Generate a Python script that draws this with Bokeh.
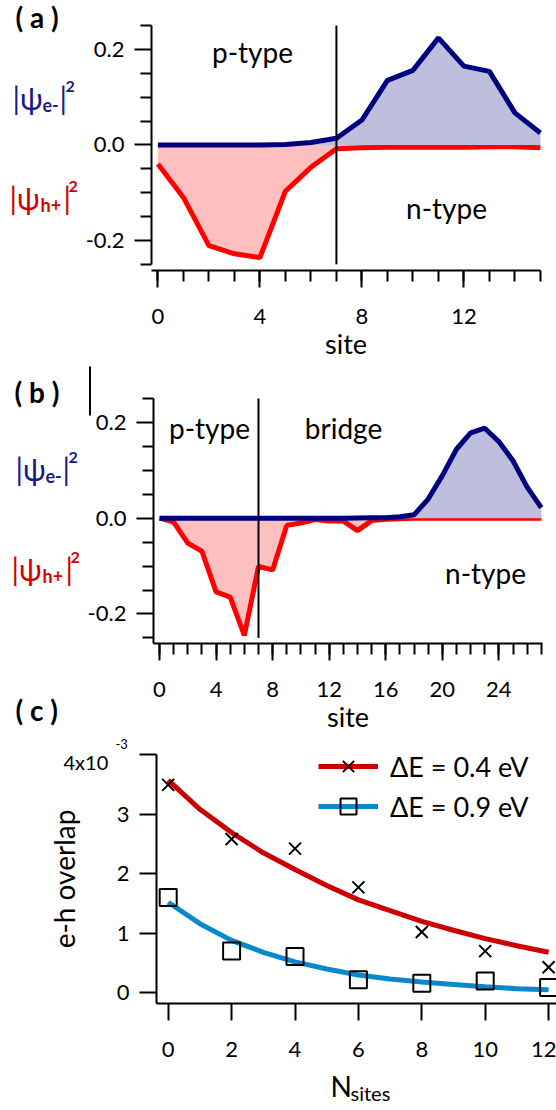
from bokeh.plotting import figure
from bokeh.models import Range1d, FixedTicker, NumeralTickFormatter, Label, Legend, LegendItem, BoxAnnotation
from bokeh.layouts import column
from bokeh.embed import file_html
from bokeh.resources import INLINE

# ---------------- data ----------------
sites_a = list(range(16))
psi_e_a = [0, 0, 0, 0, 0, 0.001, 0.005, 0.014, 0.052, 0.135, 0.156, 0.224, 0.165, 0.154, 0.067, 0.025]
psi_h_a = [-0.040, -0.110, -0.211, -0.228, -0.236, -0.097, -0.047, -0.008, -0.006, -0.005, -0.005,
           -0.005, -0.005, -0.004, -0.004, -0.006]
junction_a = [7]

sites_b = list(range(28))
psi_e_b = [0, 0, 0, 0, 0, 0, 0, 0, 0, 0, 0, 0, 0, 0, 0.0005, 0.001, 0.001, 0.003, 0.007,
           0.040, 0.089, 0.144, 0.178, 0.188, 0.160, 0.120, 0.065, 0.022]
psi_h_b = [0, -0.008, -0.052, -0.069, -0.154, -0.165, -0.245, -0.101, -0.108, -0.015, -0.010,
           -0.003, -0.006, -0.006, -0.026, -0.005, -0.002, -0.001, 0, 0, 0, 0, 0, 0, 0, 0, 0, 0]
junction_b = [7]

n_sites = [0, 2, 4, 6, 8, 10, 12]
overlap_04 = [3.49, 2.58, 2.42, 1.77, 1.02, 0.70, 0.43]   # x 1e-3
overlap_09 = [1.60, 0.70, 0.61, 0.22, 0.16, 0.20, 0.09]   # x 1e-3
fit_n = list(range(13))
fit_04 = [3.57, 3.08, 2.69, 2.35, 2.07, 1.80, 1.56, 1.38, 1.20, 1.05, 0.91, 0.79, 0.68]
fit_09 = [1.52, 1.16, 0.88, 0.68, 0.52, 0.40, 0.30, 0.23, 0.18, 0.14, 0.10, 0.07, 0.05]

legend_labels = ["\u0394E = 0.4 eV", "\u0394E = 0.9 eV"]

FONT = "Lato"
NAVY = "#00007f"
NAVY_FILL = "#bfbfdd"
RED = "#ff0000"
PINK = "#ffbfbf"
TXT_BLUE = "#1a1a8a"
TXT_RED = "#d40000"
FIT_RED = "#cc0000"
FIT_BLUE = "#0a88cc"

TEXT_DY = 8  # empirical baseline correction for labels


def make_fig(h, xr, yr, xloc, yloc, xbounds, ybounds):
    p = figure(width=556, height=h, x_range=Range1d(*xr), y_range=Range1d(*yr),
               output_backend="svg", toolbar_location=None, min_border=0)
    p.outline_line_color = None
    p.grid.visible = False
    p.background_fill_color = "white"
    p.border_fill_color = "white"
    p.xaxis[0].fixed_location = xloc
    p.yaxis[0].fixed_location = yloc
    p.xaxis[0].bounds = xbounds
    p.yaxis[0].bounds = ybounds
    for ax in (p.xaxis[0], p.yaxis[0]):
        ax.axis_line_width = 2
        ax.axis_line_color = "black"
        ax.major_tick_line_width = 2
        ax.minor_tick_line_width = 2
        ax.major_tick_line_color = "black"
        ax.minor_tick_line_color = "black"
        ax.major_tick_in = 0
        ax.minor_tick_in = 0
        ax.major_tick_out = 17
        ax.minor_tick_out = 11
        ax.major_label_text_font = FONT
        ax.major_label_text_font_size = "22px"
        ax.major_label_text_color = "black"
        ax.axis_label_text_font = FONT
        ax.axis_label_text_font_style = "normal"
        ax.axis_label_text_color = "black"
        ax.axis_label_text_font_size = "27px"
    p.xaxis[0].major_label_standoff = 21
    p.yaxis[0].major_label_standoff = 10
    return p


def put(p, fb, px, py, text, size, color="black", bold=False, align="left"):
    p.add_layout(Label(x=px, y=fb - (py - TEXT_DY), x_units="screen", y_units="screen", text=text,
                       text_font=FONT, text_font_size=f"{size}px", text_color=color,
                       text_align=align, text_baseline="alphabetic",
                       text_font_style="bold" if bold else "normal"))


def psi(p, fb, px, py, sub, color, sub_dx, bar_dx, sup_dx):
    put(p, fb, px, py, "|\u03c8", 30, color)
    put(p, fb, px + sub_dx, py + 7, sub, 18, color, bold=True)
    put(p, fb, px + bar_dx, py, "|", 30, color)
    put(p, fb, px + sup_dx, py - 11, "2", 16, color, bold=True)


# ---------------- panel (a) ----------------
FBa = 360
pa = make_fig(360, (-6.173, 15.631), (-0.4514, 0.3023), -0.263, -0.25, (-0.25, 15.0), (-0.25, 0.25))
pa.xaxis[0].ticker = FixedTicker(ticks=[0, 4, 8, 12], minor_ticks=sites_a)
pa.yaxis[0].ticker = FixedTicker(ticks=[-0.2, 0, 0.2],
                                 minor_ticks=[-0.25, -0.15, -0.1, -0.05, 0.05, 0.1, 0.15, 0.25])
pa.yaxis[0].formatter = NumeralTickFormatter(format="0.0")
pa.xaxis[0].axis_label = "site"
pa.xaxis[0].axis_label_standoff = 0

pa.varea(x=sites_a, y1=0, y2=psi_h_a, fill_color=PINK)
pa.line(sites_a, psi_h_a, line_color=RED, line_width=5)
pa.varea(x=sites_a, y1=0, y2=psi_e_a, fill_color=NAVY_FILL)
pa.line(sites_a, psi_e_a, line_color=NAVY, line_width=5)
pa.segment(x0=junction_a, y0=[-0.25], x1=junction_a, y1=[0.25], line_color="black", line_width=2)

put(pa, FBa, 15, 24, "( a )", 28, bold=True)
put(pa, FBa, 252, 59, "p-type", 28, align="center")
put(pa, FBa, 446, 215, "n-type", 28, align="center")
psi(pa, FBa, 12, 105, "e-", TXT_BLUE, 30, 47, 53)
psi(pa, FBa, 9, 205, "h+", TXT_RED, 31, 54, 59)

# ---------------- panel (b) ----------------
FBb = 734
pb = make_fig(374, (-11.245, 28.076), (-0.4518, 0.3294), -0.262, -0.424, (-0.424, 27.09), (-0.262, 0.25))
pb.xaxis[0].ticker = FixedTicker(ticks=[0, 4, 8, 12, 16, 20, 24], minor_ticks=sites_b)
pb.yaxis[0].ticker = FixedTicker(ticks=[-0.2, 0, 0.2],
                                 minor_ticks=[-0.25, -0.15, -0.1, -0.05, 0.05, 0.1, 0.15, 0.25])
pb.yaxis[0].formatter = NumeralTickFormatter(format="0.0")
pb.xaxis[0].axis_label = "site"
pb.xaxis[0].axis_label_standoff = 0

pb.varea(x=sites_b, y1=0, y2=psi_h_b, fill_color=PINK)
pb.line(sites_b, psi_h_b, line_color=RED, line_width=5)
pb.varea(x=sites_b, y1=0, y2=psi_e_b, fill_color=NAVY_FILL)
pb.line(sites_b, psi_e_b, line_color=NAVY, line_width=5)
pb.segment(x0=junction_b, y0=[-0.25], x1=junction_b, y1=[0.25], line_color="black", line_width=2)

put(pb, FBb, 14, 399, "( b )", 28, bold=True)
put(pb, FBb, 209, 435, "p-type", 28, align="center")
put(pb, FBb, 343, 435, "bridge", 28, align="center")
put(pb, FBb, 485, 580, "n-type", 28, align="center")
psi(pb, FBb, 15, 476, "e-", TXT_BLUE, 30, 47, 53)
psi(pb, FBb, 11, 576, "h+", TXT_RED, 31, 54, 59)
put(pb, FBb, 15, 717, "( c )", 28, bold=True)
pb.add_layout(BoxAnnotation(left=88.5, right=90.5, top=FBb - 366, bottom=FBb - 415,
                            left_units="screen", right_units="screen", top_units="screen",
                            bottom_units="screen", fill_color="black", fill_alpha=1,
                            line_color=None))

# ---------------- panel (c) ----------------
FBc = 1110
pc = make_fig(376, (-5.290, 12.249), (-1.9755, 4.3354), -0.18, -0.369, (-0.369, 12.249), (-0.18, 4.0))
pc.xaxis[0].ticker = FixedTicker(ticks=n_sites, minor_ticks=[])
pc.yaxis[0].ticker = FixedTicker(ticks=[0, 1, 2, 3, 4], minor_ticks=[])
pc.yaxis[0].major_label_overrides = {4: ""}
pc.yaxis[0].axis_label = "e-h overlap"
pc.yaxis[0].axis_label_standoff = 33
pc.yaxis[0].axis_label_text_font_size = "28px"

r_fit04 = pc.line(fit_n, fit_04, line_color=FIT_RED, line_width=5)
r_fit09 = pc.line(fit_n, fit_09, line_color=FIT_BLUE, line_width=5)
r_x = pc.scatter(n_sites, overlap_04, marker="x", size=17, line_color="black", line_width=2)
r_sq = pc.scatter(n_sites, overlap_09, marker="square", size=17, line_color="black",
                  line_width=2, fill_color=None)

legend = Legend(items=[LegendItem(label=legend_labels[0], renderers=[r_fit04, r_x]),
                       LegendItem(label=legend_labels[1], renderers=[r_fit09, r_sq])],
                location=(318, 284), glyph_width=60, glyph_height=40, spacing=0,
                padding=0, margin=0, label_standoff=12, label_text_font=FONT,
                label_text_font_size="27px", label_text_color="black",
                border_line_color=None, background_fill_alpha=0)
pc.add_layout(legend, "center")

put(pc, FBc, 63, 769, "4x10", 20)
put(pc, FBc, 115, 751, "-3", 13)
put(pc, FBc, 330, 1093, "N", 28)
put(pc, FBc, 350, 1100, "sites", 20)

layout = column(pa, pb, pc, spacing=0)
open("out.html", "w").write(file_html(layout, INLINE))
